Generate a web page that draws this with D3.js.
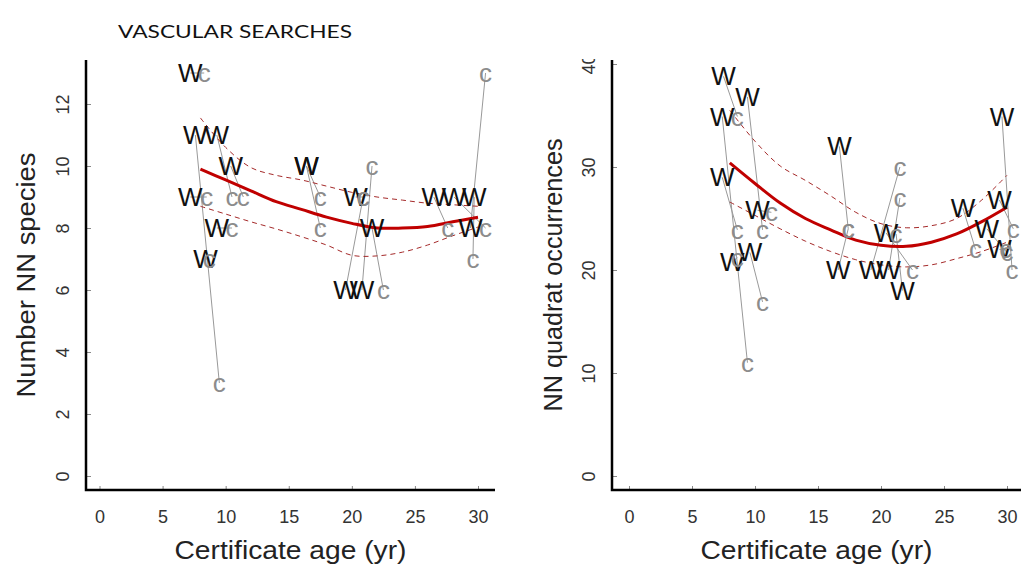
<!DOCTYPE html>
<html>
<head>
<meta charset="utf-8">
<script src="https://cdn.jsdelivr.net/npm/d3@7"></script>
<style>
  body { margin: 0; background: #fff; }
  svg { display: block; }
</style>
</head>
<body>
<div id="chart"></div>
<script>
const width = 1024;
const height = 569;

// tick labels
const ageTicks = [0, 5, 10, 15, 20, 25, 30];
const speciesTicks = [0, 2, 4, 6, 8, 10, 12];
const occTicks = [0, 10, 20, 30, 40];

// left panel: number of NN species, W and c point pairs
const spW_age = [7.2, 7.6, 9.3, 10.4, 16.4, 16.4, 7.2, 9.3, 8.4, 20.3, 19.5, 20.8, 21.6, 26.5, 28.1, 29.7, 29.4];
const spW = [13, 11, 11, 10, 10, 10, 9, 8, 7, 9, 6, 6, 8, 9, 9, 9, 8];
const spC_age = [8.3, 9.5, 10.5, 11.4, 17.5, 17.5, 8.5, 10.5, 8.7, 20.9, 20.9, 21.6, 22.5, 27.6, 30.6, 29.6, 30.6];
const spC = [13, 3, 9, 9, 9, 8, 9, 8, 7, 9, 9, 10, 6, 8, 8, 7, 13];

// right panel: NN quadrat occurrences
const ocW_age = [7.5, 7.4, 9.4, 7.4, 10.2, 9.6, 8.2, 16.7, 16.6, 19.2, 20.6, 20.4, 21.7, 26.5, 29.6, 29.4, 28.4, 29.4];
const ocW = [38.8, 34.9, 36.8, 29, 25.8, 21.7, 20.8, 32, 20, 20, 20, 23.6, 18, 26, 34.9, 26.8, 24, 22];
const ocC_age = [8.6, 9.4, 10.6, 8.6, 11.3, 10.6, 8.6, 17.4, 17.4, 21.5, 21.5, 22.5, 21.2, 27.5, 30.4, 30.5, 30.0, 29.9];
const ocC = [34.9, 11, 23.9, 23.9, 25.6, 16.9, 21.2, 24, 24, 30, 27, 20, 23.5, 22, 20, 24, 21.7, 22];

// fitted curves with confidence bands
const fitAge = [8, 10, 12, 14, 16, 18, 20, 22, 24, 26, 28, 30];
const spFit = [9.9, 9.55, 9.2, 8.85, 8.6, 8.35, 8.15, 8.0, 8.0, 8.05, 8.2, 8.35];
const spUpper = [11.55, 10.6, 9.95, 9.7, 9.55, 9.35, 9.15, 9.0, 8.9, 8.8, 8.75, 8.7];
const spLower = [8.7, 8.45, 8.2, 7.97, 7.72, 7.45, 7.12, 7.1, 7.22, 7.45, 7.75, 8.03];
const ocFit = [30.4, 28.4, 26.5, 25.0, 23.9, 22.9, 22.4, 22.3, 22.7, 23.5, 24.7, 26.1];
const ocUpper = [35.5, 32.5, 30.1, 28.7, 27.2, 25.6, 24.5, 24.1, 24.3, 25.0, 26.8, 29.2];
const ocLower = [26.6, 25.3, 24.0, 22.8, 21.8, 21.0, 20.5, 20.3, 20.5, 21.1, 21.8, 22.7];

const svg = d3.select('#chart')
  .append('svg')
  .attr('width', width)
  .attr('height', height);

svg.append('defs').append('clipPath')
  .attr('id', 'topclip')
  .append('rect')
    .attr('x', 0).attr('y', 59)
    .attr('width', width).attr('height', height);

svg.append('text')
  .attr('x', 118)
  .attr('y', 38)
  .attr('font-family', 'Lato, "Open Sans", sans-serif')
  .attr('font-size', 17)
  .attr('textLength', 234)
  .attr('lengthAdjust', 'spacingAndGlyphs')
  .attr('fill', '#111')
  .text('VASCULAR SEARCHES');

function drawPanel(p) {
  const g = svg.append('g').attr('clip-path', 'url(#topclip)');

  const x = d3.scaleLinear().domain([0, 30]).range(p.xRange);
  const y = d3.scaleLinear().domain(p.yDomain).range([476, p.yTop]);

  // axes
  const xAxis = g.append('g')
    .attr('transform', `translate(0, ${p.axisY})`)
    .call(d3.axisBottom(x).tickValues(ageTicks).tickSize(-4).tickPadding(20));
  const yAxis = g.append('g')
    .attr('transform', `translate(${p.axisX}, 0)`)
    .call(d3.axisLeft(y).tickValues(p.yTicks).tickSize(-5).tickPadding(0));

  [xAxis, yAxis].forEach(a => {
    a.select('.domain').remove();
    a.selectAll('.tick line').attr('stroke', '#888').attr('stroke-width', 1);
    a.selectAll('text')
      .attr('font-family', '"Liberation Sans", Arial, sans-serif')
      .attr('font-size', 18)
      .attr('fill', '#333');
  });
  xAxis.selectAll('text').attr('dy', '0.71em');
  yAxis.selectAll('text')
    .attr('x', null).attr('dy', null)
    .attr('text-anchor', 'middle')
    .attr('dominant-baseline', 'central')
    .attr('transform', 'translate(-23,0) rotate(-90)');

  g.append('path')
    .attr('d', `M${p.axisX},60 V${p.axisY} H${p.axisEnd}`)
    .attr('fill', 'none')
    .attr('stroke', '#000')
    .attr('stroke-width', 2.5);

  // axis titles
  const titleFont = '"Liberation Sans", Arial, sans-serif';
  g.append('text')
    .attr('x', (p.axisX + p.axisEnd) / 2)
    .attr('y', 559)
    .attr('text-anchor', 'middle')
    .attr('font-family', titleFont)
    .attr('font-size', 25)
    .attr('textLength', 232)
    .attr('lengthAdjust', 'spacingAndGlyphs')
    .attr('fill', '#222')
    .text('Certificate age (yr)');
  g.append('text')
    .attr('transform', `translate(${p.labelX}, 275) rotate(-90)`)
    .attr('text-anchor', 'middle')
    .attr('font-family', titleFont)
    .attr('font-size', 25)
    .attr('textLength', p.labelLen)
    .attr('lengthAdjust', 'spacingAndGlyphs')
    .attr('fill', '#222')
    .text(p.label);

  const pairs = p.wAge.map((a, i) => ({ wa: a, w: p.w[i], ca: p.cAge[i], c: p.c[i] }));

  // connecting segments
  g.append('g')
    .selectAll('line')
    .data(pairs)
    .join('line')
      .attr('x1', d => x(d.wa)).attr('y1', d => y(d.w))
      .attr('x2', d => x(d.ca)).attr('y2', d => y(d.c))
      .attr('stroke', '#999')
      .attr('stroke-width', 1);

  // fitted curve and bands
  const line = d3.line()
    .x((d, i) => x(fitAge[i]))
    .y(d => y(d))
    .curve(d3.curveCatmullRom);

  [p.upper, p.lower].forEach(band => {
    g.append('path')
      .attr('d', line(band))
      .attr('fill', 'none')
      .attr('stroke', '#a52a2a')
      .attr('stroke-width', 1)
      .attr('stroke-dasharray', '5,4');
  });
  g.append('path')
    .attr('d', line(p.fit))
    .attr('fill', 'none')
    .attr('stroke', '#c00000')
    .attr('stroke-width', 3);

  // letters
  const letterFont = '"Liberation Sans", Arial, sans-serif';
  g.append('g')
    .selectAll('text')
    .data(pairs)
    .join('text')
      .attr('x', d => x(d.wa))
      .attr('y', d => y(d.w))
      .attr('text-anchor', 'middle')
      .attr('dominant-baseline', 'central')
      .attr('font-family', letterFont)
      .attr('font-size', 26)
      .attr('fill', '#111')
      .text('W');
  g.append('g')
    .selectAll('text')
    .data(pairs)
    .join('text')
      .attr('x', d => x(d.ca))
      .attr('y', d => y(d.c))
      .attr('text-anchor', 'middle')
      .attr('dominant-baseline', 'central')
      .attr('font-family', letterFont)
      .attr('font-size', 26)
      .attr('fill', '#8c8c8c')
      .text('c');
}

drawPanel({
  xRange: [99.5, 478], yDomain: [0, 12], yTop: 104, yTicks: speciesTicks,
  axisX: 86, axisY: 490, axisEnd: 495, labelX: 35, labelLen: 245,
  label: 'Number NN species',
  wAge: spW_age, w: spW, cAge: spC_age, c: spC,
  fit: spFit, upper: spUpper, lower: spLower
});

drawPanel({
  xRange: [629, 1007], yDomain: [0, 40], yTop: 64, yTicks: occTicks,
  axisX: 612, axisY: 490, axisEnd: 1021, labelX: 562, labelLen: 273,
  label: 'NN quadrat occurrences',
  wAge: ocW_age, w: ocW, cAge: ocC_age, c: ocC,
  fit: ocFit, upper: ocUpper, lower: ocLower
});
</script>
</body>
</html>
